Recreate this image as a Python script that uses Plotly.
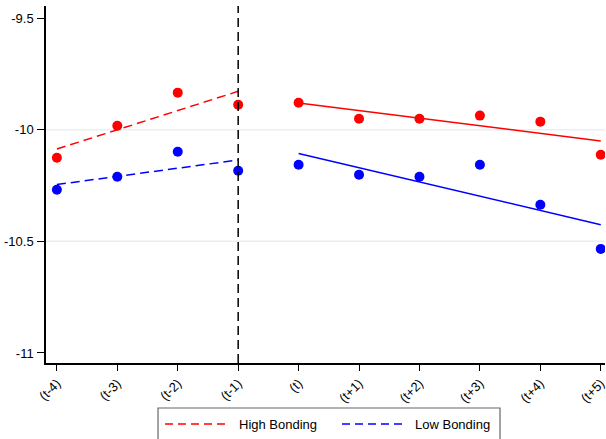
import numpy as np
import plotly.graph_objects as go

periods = ["(t-4)", "(t-3)", "(t-2)", "(t-1)", "(t)", "(t+1)", "(t+2)", "(t+3)", "(t+4)", "(t+5)"]
high_bonding = [-10.126, -9.982, -9.834, -9.888, -9.879, -9.951, -9.951, -9.937, -9.964, -10.112]
low_bonding = [-10.269, -10.211, -10.099, -10.184, -10.157, -10.202, -10.211, -10.157, -10.336, -10.534]
yticks = [-9.5, -10, -10.5, -11]
ytick_text = ["-9.5", "-10", "-10.5", "-11"]
grid_values = [-10, -10.5]  # only interior ticks have grid lines
series_names = ["High Bonding", "Low Bonding"]
series_colors = ["red", "blue"]
event_index = 3  # (t-1)

xpos = np.arange(len(periods))
pre = xpos <= event_index
post = xpos > event_index

def fit(xs, ys):
    b, a = np.polyfit(xs, ys, 1)
    return xs, a + b * xs

fig = go.Figure()

for g in grid_values:
    fig.add_hline(y=g, line=dict(color="#eaeff2", width=1.5), layer="below")

for vals, color, name in zip([high_bonding, low_bonding], series_colors, series_names):
    v = np.array(vals)
    fig.add_trace(go.Scatter(x=xpos, y=v, mode="markers",
                             marker=dict(color=color, size=10), showlegend=False, hoverinfo="skip"))
    fx, fy = fit(xpos[pre], v[pre])
    fig.add_trace(go.Scatter(x=fx, y=fy, mode="lines", name=name, showlegend=False,
                             line=dict(color=color, dash="9px,5px", width=1.5)))
    fx, fy = fit(xpos[post], v[post])
    fig.add_trace(go.Scatter(x=fx, y=fy, mode="lines", showlegend=False,
                             line=dict(color=color, width=1.5)))

fig.add_shape(type="line", x0=event_index, x1=event_index, y0=0, y1=1, xref="x", yref="paper",
              line=dict(color="black", dash="9px,5px", width=1.5))

# custom legend (paper coordinates)
fig.add_shape(type="rect", xref="paper", yref="paper", x0=0.2004, x1=0.8122, y0=-0.126, y1=-0.24,
              line=dict(color="#666666", width=1.2), fillcolor="white")
legend_items = [(0.2129, 0.3202, 0.3417), (0.5295, 0.6386, 0.6565)]
for (lx0, lx1, tx), color, name in zip(legend_items, series_colors, series_names):
    fig.add_shape(type="line", xref="paper", yref="paper", x0=lx0, x1=lx1, y0=-0.1709, y1=-0.1709,
                  line=dict(color=color, dash="8px,5px", width=1.5))
    fig.add_annotation(xref="paper", yref="paper", x=tx, y=-0.1709, text=name, showarrow=False,
                       xanchor="left", yanchor="middle", font=dict(size=13, color="black"))

fig.update_layout(
    width=606, height=439,
    margin=dict(l=46, r=1, t=6, b=76),
    plot_bgcolor="white", paper_bgcolor="white",
    showlegend=False,
    font=dict(family="Liberation Sans, Arial, sans-serif", size=13, color="black"),
    xaxis=dict(range=[-0.18, 9.07], tickvals=list(xpos), ticktext=periods, tickangle=-45,
               showline=True, linecolor="black", linewidth=1.5, ticks="outside", ticklen=6,
               tickcolor="black", showgrid=False, zeroline=False, automargin=False,
               ticklabeloverflow="allow"),
    yaxis=dict(range=[-11.045, -9.446], tickvals=yticks, ticktext=ytick_text,
               showline=True, linecolor="black", linewidth=1.5, ticks="outside", ticklen=7,
               tickcolor="black", showgrid=False, zeroline=False, automargin=False,
               ticklabelstandoff=1),
)

fig.write_html("out.html", config={"displayModeBar": False},
               post_script="document.body.style.margin='0px';document.body.style.overflow='hidden';")
